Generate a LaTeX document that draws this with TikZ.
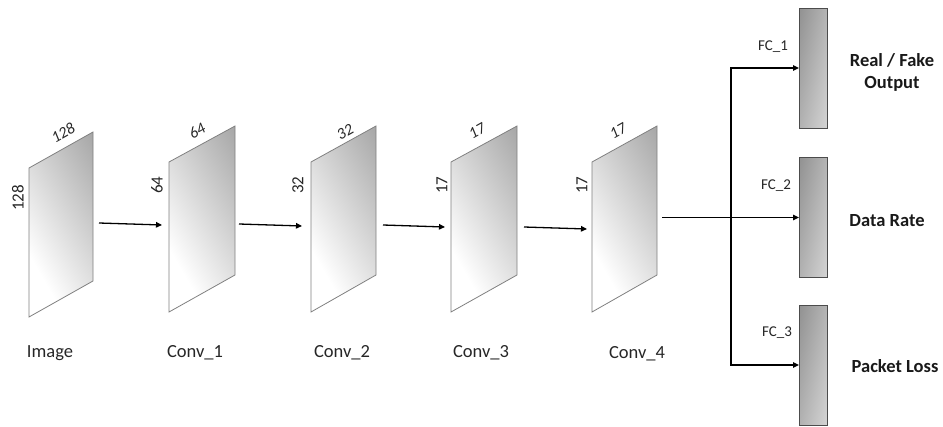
\documentclass[tikz,border=0pt]{standalone}
\usepackage{fontspec}
\setmainfont{Carlito}
\usetikzlibrary{arrows.meta}
\pgfdeclarehorizontalshading{fmapshade}{100bp}{color(0bp)=(white); color(30bp)=(white); color(100bp)=(black!45)}
\pgfdeclarehorizontalshading{fcshade}{100bp}{color(0bp)=(black!52); color(100bp)=(black!8)}
\tikzset{
  fmap/.style={draw=black!50, line width=0.8pt, shading=fmapshade, shading angle=30},
  fcbox/.style={draw=black!70, line width=0.9pt, shading=fcshade, shading angle=-12,
    minimum width=28pt, minimum height=120pt, inner sep=0pt, outer sep=0pt},
  arr/.style={line width=1.3pt, -{Triangle[length=6pt,width=5.5pt]}},
  sidelab/.style={font=\fontsize{17}{19}\selectfont, text=black!85, rotate=90, inner sep=0pt},
  toplab/.style={font=\fontsize{16}{18}\selectfont\itshape, text=black!85, rotate=29.4, inner sep=0pt},
  botlab/.style={font=\fontsize{18.5}{20}\selectfont, text=black!85, inner sep=0pt},
  fclab/.style={font=\fontsize{15}{17}\selectfont, text=black!85, inner sep=0pt},
  outlab/.style={font=\fontsize{18.5}{22}\selectfont\bfseries, text=black!90, align=center, inner sep=0pt}
}
\begin{document}
\begin{tikzpicture}[x=1pt,y=-1pt]
\useasboundingbox (0,0) rectangle (943,426);
% feature maps
\path[fmap] (29,168) coordinate (img-tl) -- (93,132) coordinate (img-tr) -- (93,281) coordinate (img-br) -- (29,317) coordinate (img-bl) -- cycle;
\path[fmap] (169,162) coordinate (c1-tl) -- (235,126) coordinate (c1-tr) -- (235,275) coordinate (c1-br) -- (169,312) coordinate (c1-bl) -- cycle;
\path[fmap] (311,162) coordinate (c2-tl) -- (376,126) coordinate (c2-tr) -- (376,275) coordinate (c2-br) -- (311,312) coordinate (c2-bl) -- cycle;
\path[fmap] (451,162) coordinate (c3-tl) -- (517,126) coordinate (c3-tr) -- (517,275) coordinate (c3-br) -- (451,312) coordinate (c3-bl) -- cycle;
\path[fmap] (592,162) coordinate (c4-tl) -- (657,126) coordinate (c4-tr) -- (657,275) coordinate (c4-br) -- (592,312) coordinate (c4-bl) -- cycle;
% dimension labels
\node[sidelab] (img-h) at (18,198) {128};
\node[sidelab] (c1-h) at (157,185) {64};
\node[sidelab] (c2-h) at (298,185) {32};
\node[sidelab] (c3-h) at (442,185) {17};
\node[sidelab] (c4-h) at (582,185) {17};
\node[toplab] (img-w) at (63,133) {128};
\node[toplab] (c1-w) at (197,131) {64};
\node[toplab] (c2-w) at (345,132) {32};
\node[toplab] (c3-w) at (477,131) {17};
\node[toplab] (c4-w) at (618,131) {17};
% bottom labels
\node[botlab] (img-l) at (50,353) {Image};
\node[botlab] (c1-l) at (195,353) {Conv\_1};
\node[botlab] (c2-l) at (342,353) {Conv\_2};
\node[botlab] (c3-l) at (481,353) {Conv\_3};
\node[botlab] (c4-l) at (637,354) {Conv\_4};
% arrows between maps
\coordinate (a1s) at (99,223); \coordinate (a1e) at (162,225);
\coordinate (a2s) at (239,224); \coordinate (a2e) at (302,226);
\coordinate (a3s) at (383,225); \coordinate (a3e) at (445,227);
\coordinate (a4s) at (524,227); \coordinate (a4e) at (587,229);
\draw[arr] (a1s) -- (a1e);
\draw[arr] (a2s) -- (a2e);
\draw[arr] (a3s) -- (a3e);
\draw[arr] (a4s) -- (a4e);
% FC boxes
\node[fcbox] (fc1) at (813,68) {};
\node[fcbox] (fc2) at (813,217.5) {};
\node[fcbox] (fc3) at (813,365) {};
\node[fclab] (fc1-l) at (773,47) {FC\_1};
\node[fclab] (fc2-l) at (776,186) {FC\_2};
\node[fclab] (fc3-l) at (777,333) {FC\_3};
% output connectors
\coordinate (c4out) at (662,217.5);
\coordinate (split) at (731,217.5);
\draw[arr] (c4out) -- (fc2.west);
\draw[arr] (split) |- (fc1.west);
\draw[arr] (split) |- (fc3.west);
% output labels
\node[outlab] (o1) at (892,72) {Real / Fake\\Output};
\node[outlab] (o2) at (887,221) {Data Rate};
\node[outlab] (o3) at (895,366) {Packet Loss};
\end{tikzpicture}
\end{document}
